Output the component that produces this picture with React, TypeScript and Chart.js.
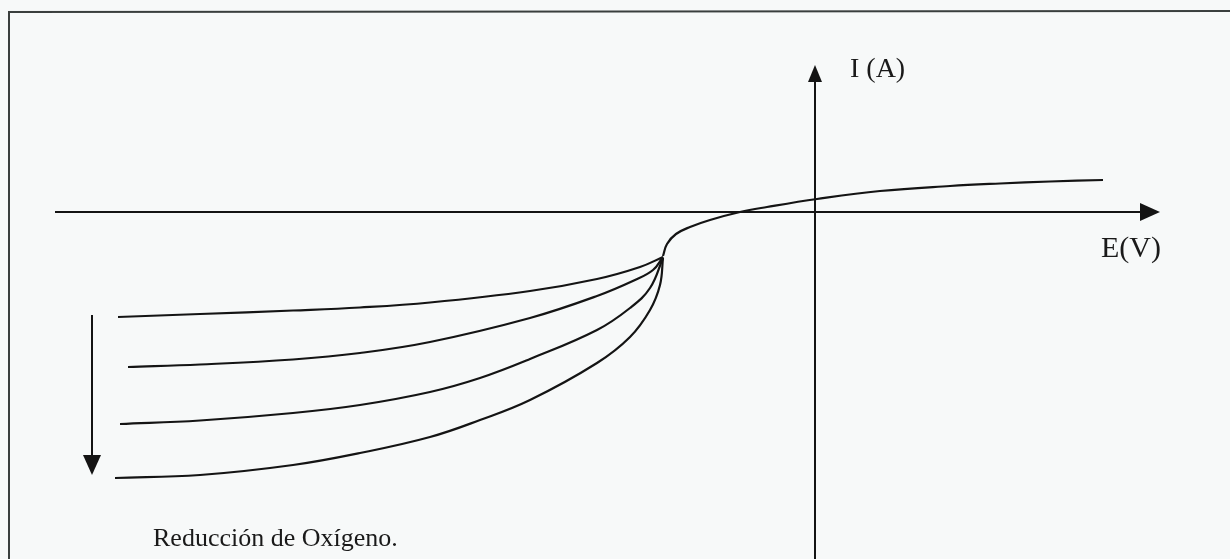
import React, { useEffect, useRef } from "react";
import { Chart, registerables } from "chart.js";

Chart.register(...registerables);

// Potential E (arbitrary units, E = 0 at the current axis)
// Current I (arbitrary units, I = 0 at the potential axis)

// Anodic branch (common to all curves)
const anodicE = [-1.52, -1.48, -1.39, -1.25, -1.05, -0.75, -0.48, 0.02, 0.65, 1.35, 1.85, 2.35, 2.88];
const anodicI = [-0.44, -0.32, -0.22, -0.15, -0.08, 0.0, 0.05, 0.13, 0.21, 0.26, 0.285, 0.305, 0.32];

// Cathodic branches, oxygen reduction, increasing limiting current
const cathodic1E = [-6.97, -6.15, -5.22, -4.55, -3.85, -2.85, -2.18, -1.75, -1.52];
const cathodic1I = [-1.05, -1.02, -0.985, -0.955, -0.905, -0.79, -0.67, -0.55, -0.45];

const cathodic2E = [-6.87, -6.15, -5.22, -4.55, -3.85, -2.85, -2.18, -1.8, -1.62, -1.52];
const cathodic2I = [-1.55, -1.525, -1.475, -1.41, -1.3, -1.06, -0.84, -0.68, -0.58, -0.45];

const cathodic3E = [-6.95, -6.15, -5.22, -4.55, -3.85, -3.35, -2.85, -2.18, -1.85, -1.65, -1.52];
const cathodic3I = [-2.12, -2.085, -2.01, -1.93, -1.8, -1.66, -1.47, -1.18, -0.96, -0.76, -0.46];

const cathodic4E = [-7.0, -6.15, -5.22, -4.55, -3.85, -3.35, -2.85, -2.18, -1.85, -1.65, -1.55, -1.52];
const cathodic4I = [-2.66, -2.63, -2.53, -2.41, -2.25, -2.08, -1.88, -1.51, -1.25, -0.98, -0.73, -0.46];

const axisLabelI = "I (A)";
const axisLabelE = "E(V)";
const caption = "Reducción de Oxígeno.";

const toPoints = (xs: number[], ys: number[]) => xs.map((x, i) => ({ x, y: ys[i] }));

const INK = "#141414";
const SERIF = "'Liberation Serif', 'Times New Roman', serif";

function arrowHead(
  ctx: CanvasRenderingContext2D,
  tipX: number,
  tipY: number,
  dirX: number,
  dirY: number,
  len: number,
  half: number
) {
  const bx = tipX - dirX * len;
  const by = tipY - dirY * len;
  const px = -dirY;
  const py = dirX;
  ctx.beginPath();
  ctx.moveTo(tipX, tipY);
  ctx.lineTo(bx + px * half, by + py * half);
  ctx.lineTo(bx - px * half, by - py * half);
  ctx.closePath();
  ctx.fill();
}

const diagramPlugin = {
  id: "polarizationDiagram",
  beforeDraw(chart: any) {
    const { ctx, width, height } = chart;
    ctx.save();
    ctx.fillStyle = "#f7f9f9";
    ctx.fillRect(0, 0, width, height);
    // frame
    ctx.strokeStyle = "#3a3f3e";
    ctx.lineWidth = 2;
    ctx.beginPath();
    ctx.moveTo(9, height);
    ctx.lineTo(9, 12);
    ctx.lineTo(width, 11);
    ctx.stroke();
    ctx.restore();
  },
  afterDatasetsDraw(chart: any) {
    const { ctx } = chart;
    const xs = chart.scales.x;
    const ys = chart.scales.y;
    const X = (v: number) => xs.getPixelForValue(v);
    const Y = (v: number) => ys.getPixelForValue(v);
    ctx.save();
    ctx.strokeStyle = INK;
    ctx.fillStyle = INK;
    ctx.lineWidth = 2;

    // potential axis
    const y0 = Y(0);
    ctx.beginPath();
    ctx.moveTo(X(-7.6), y0);
    ctx.lineTo(X(3.3), y0);
    ctx.stroke();
    arrowHead(ctx, X(3.45), y0, 1, 0, 20, 9);

    // current axis
    const x0 = X(0);
    ctx.beginPath();
    ctx.moveTo(x0, Y(-3.6));
    ctx.lineTo(x0, Y(1.35));
    ctx.stroke();
    arrowHead(ctx, x0, Y(1.47), 0, -1, 17, 7);

    // direction arrow for increasing oxygen reduction
    const xa = X(-7.23);
    ctx.beginPath();
    ctx.moveTo(xa, Y(-1.03));
    ctx.lineTo(xa, Y(-2.45));
    ctx.stroke();
    arrowHead(ctx, xa, Y(-2.63), 0, 1, 20, 9);

    // labels
    ctx.fillStyle = "#1a1a1a";
    ctx.textBaseline = "alphabetic";
    ctx.textAlign = "left";
    ctx.font = `28px ${SERIF}`;
    ctx.fillText(axisLabelI, X(0.35), Y(1.35));
    ctx.font = `30px ${SERIF}`;
    ctx.fillText(axisLabelE, X(2.86), Y(-0.45));
    ctx.font = `26px ${SERIF}`;
    ctx.fillText(caption, X(-6.62), Y(-3.34));
    ctx.restore();
  },
};

export default function App() {
  const canvasRef = useRef<HTMLCanvasElement | null>(null);

  useEffect(() => {
    if (!canvasRef.current) return;
    const line = (xs: number[], ys: number[]) => ({
      data: toPoints(xs, ys),
      showLine: true,
      borderColor: INK,
      borderWidth: 2.2,
      pointRadius: 0,
      tension: 0.4,
      fill: false,
    });
    const chart = new Chart(canvasRef.current, {
      type: "scatter",
      data: {
        datasets: [
          line(anodicE, anodicI),
          line(cathodic1E, cathodic1I),
          line(cathodic2E, cathodic2I),
          line(cathodic3E, cathodic3I),
          line(cathodic4E, cathodic4I),
        ],
      },
      options: {
        responsive: false,
        animation: false,
        layout: { padding: 0 },
        plugins: {
          legend: { display: false },
          tooltip: { enabled: false },
        },
        scales: {
          x: { type: "linear", min: -8.15, max: 4.15, display: false },
          y: { type: "linear", min: -3.47, max: 2.12, display: false },
        },
      },
      plugins: [diagramPlugin],
    });
    return () => chart.destroy();
  }, []);

  return (
    <div style={{ position: "fixed", left: 0, top: 0, width: 1230, height: 559 }}>
      <canvas ref={canvasRef} width={1230} height={559} />
    </div>
  );
}
